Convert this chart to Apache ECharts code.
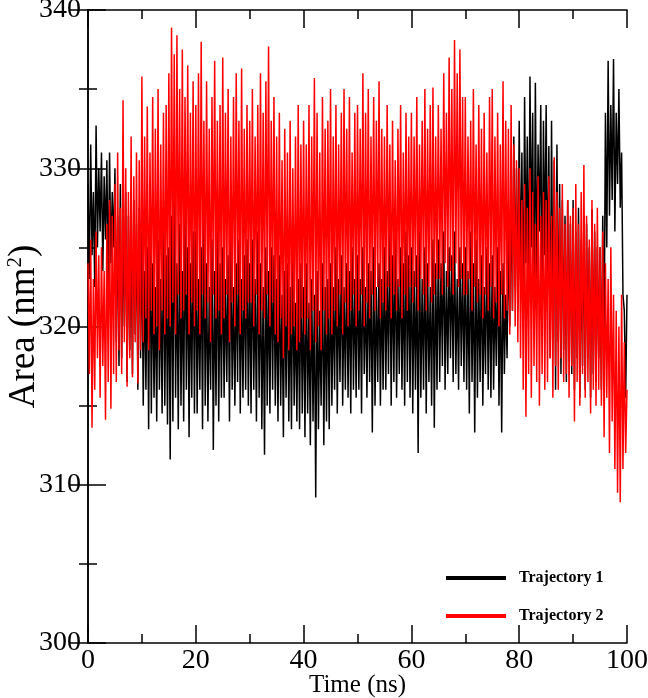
<!DOCTYPE html>
<html>
<head>
<meta charset="utf-8">
<script src="https://cdn.jsdelivr.net/npm/echarts@6/dist/echarts.min.js"></script>
<style>html,body{margin:0;padding:0;background:#fff;}#c{width:648px;height:698px;}</style>
</head>
<body>
<div id="c"></div>
<script>
// Sampling grid: one value every 0.25 ns from 0 to 100 ns
const timeStepNs = 0.25;
const xTicks = [0, 20, 40, 60, 80, 100];
const yTicks = [300, 310, 320, 330, 340];
const seriesNames = ['Trajectory 1', 'Trajectory 2'];

// Trajectory 1 (black), area in nm^2 (rows of 5 ns)
const traj1 = [
 329, 323, 331.5, 324.5, 328.5, 322.5, 332.7, 325, 330, 326, 331, 323.5, 329.5, 325.5, 330.5, 322.5, 331, 324, 328.5, 325,
 330, 319, 327, 317.5, 329, 318, 326, 320, 328.5, 316.5, 327, 318.5, 325.5, 317, 328, 319.5, 326.5, 316, 327.5, 318,
 326, 315, 323.5, 316, 325, 313.5, 327, 314.5, 324, 315.5, 322.5, 314, 325.5, 316, 323, 314.5, 326, 315, 324.5, 313.8,
 325, 311.6, 327, 314, 329, 315.5, 324, 313.5, 326.5, 315, 323.5, 314, 328, 316, 325, 313, 324, 315.5, 326, 314.5,
 326, 314.5, 323, 316, 325, 313.5, 327, 315, 324, 314, 322.5, 316, 325.5, 312.2, 323.5, 315, 326, 314, 324, 315.5,
 325, 315.5, 323, 316.5, 324.5, 314, 326, 316, 322.5, 315, 324, 316.5, 325.5, 314.5, 323, 315.5, 324.5, 316, 325.5, 315,
 324, 314.5, 325.5, 316, 323, 314, 326, 315.5, 324, 313.5, 322.5, 311.9, 325, 315, 323.5, 314.5, 325, 316, 324.5, 315,
 323, 314, 324.5, 315, 322, 313, 323.5, 315.5, 324, 314, 322.5, 313.5, 324.5, 315, 321.5, 314, 323, 313.5, 324, 314.5,
 322.5, 313, 324, 314.5, 321.5, 312.5, 323, 314, 322, 309.2, 323.5, 313.5, 321, 315, 324, 312.5, 322.5, 314, 323, 313.5,
 324, 315, 322.5, 316, 325, 314.5, 323, 316.5, 324.5, 315, 322.5, 316, 324, 315.5, 323.5, 314.5, 325, 316, 323, 315.5,
 324.5, 316, 323, 314.5, 325, 317, 322.5, 315.5, 324, 316.5, 323.5, 313.3, 325, 315, 322.5, 316.5, 324, 315, 323, 316,
 325, 316, 323.5, 317, 326, 315, 324.5, 316.5, 325.5, 315.5, 323, 317, 325, 316, 324, 315, 326, 316.5, 324.5, 315.5,
 325, 314.5, 323.5, 316, 324.5, 312, 326, 315.5, 323, 316, 325, 314.5, 324, 316.5, 322.5, 315, 325.5, 313.6, 324, 316,
 325.5, 316.5, 324, 317.5, 326, 316, 323.5, 317, 325, 318, 324.5, 316.5, 326, 317, 323, 316, 325, 317.5, 324, 316.5,
 325, 316, 323.5, 314.5, 326, 316.5, 324, 313.3, 325.5, 315.5, 323, 316.5, 324.5, 315, 322.5, 317, 325, 316, 324, 315.5,
 324.5, 316, 322.5, 317.5, 325, 315, 323.5, 313.3, 324, 317, 322, 318, 326, 320, 328.5, 321, 332, 322.5, 330, 321,
 333, 323, 331, 320, 334.5, 324, 332, 321.5, 335.8, 325, 333.5, 319.6, 335.4, 323, 331.5, 326, 334, 321, 333, 324.5,
 334, 322, 331.4, 318, 333, 320, 330.5, 316, 331.5, 319, 329, 317, 328, 318.5, 327, 316.5, 328, 318, 326.5, 317,
 328, 316, 326, 318, 327.5, 315.5, 325.5, 317.5, 327, 316, 326.5, 318, 325, 315.5, 327.4, 317, 326, 316.5, 325, 318,
 325, 316, 327, 318.5, 333.5, 325, 336.8, 327, 334, 328, 336.9, 326, 333.5, 329, 335, 327.5, 331, 322, 321, 315.5,
 322
];

// Trajectory 2 (red), area in nm^2 (rows of 5 ns)
const traj2 = [
 324, 317, 325.5, 313.6, 323, 316, 326, 318, 324.5, 315.5, 325, 317.5, 323.5, 314.1, 326.5, 316.5, 328, 314.8, 327, 317,
 329, 316.5, 331, 318.5, 327.5, 317, 334.3, 319, 330, 316.2, 328.5, 318, 332, 316.8, 329.5, 319, 331, 316.4, 330.5, 318.5,
 335.8, 319, 332, 320.5, 333.9, 318.5, 331, 321, 334.5, 319.5, 332.5, 320, 335, 318.5, 331.5, 321, 333.5, 319.5, 334, 320.5,
 336, 320, 338.9, 321.5, 337.2, 319.5, 338.4, 322, 335, 320.5, 337.5, 321, 334.5, 322, 336.5, 319.5, 333.5, 321.5, 335.5, 320,
 334, 321, 336, 319.5, 338, 322, 333, 320.5, 335.5, 321.5, 332.5, 319, 334.5, 322, 336.8, 320.5, 333, 321, 334, 319.5,
 337, 320.5, 333.5, 322, 335, 319, 332, 321.5, 334.5, 320, 336, 322, 333, 319.5, 336.3, 321, 332.5, 320.5, 334, 321.5,
 333, 321.5, 335, 320, 332, 322, 334, 319.5, 336, 321, 333.5, 320.5, 335.5, 322, 337.7, 320, 333, 321.5, 334.5, 319.5,
 332, 319, 333.5, 320.5, 330.5, 318, 332.5, 320, 331, 318.5, 333, 319.5, 330, 320, 332, 318.5, 334, 319, 331.5, 320.5,
 333, 319.5, 331.5, 320.5, 334, 318.5, 332, 321, 335.7, 319, 333.5, 320, 331, 318.5, 334.5, 321, 332.5, 319.5, 333, 320.5,
 335, 319.5, 332, 321, 334, 320, 331.5, 322, 333.5, 319.5, 335, 321.5, 332.5, 320, 334.5, 321, 331, 322, 333.5, 320,
 334, 321, 332.5, 322, 336, 320, 333.5, 321.5, 335, 320.5, 332, 322, 334.5, 321, 333, 322.5, 335.5, 320.5, 332.5, 321.5,
 332, 321, 334, 322.5, 331.5, 320.5, 333, 322, 330.5, 321, 332.5, 322.5, 334, 320.5, 331, 322, 333.5, 321, 332, 322.5,
 333.5, 321.5, 332, 322.5, 334.5, 321, 331.5, 323, 333, 322, 335, 321, 332.5, 322.5, 334, 321.5, 335.1, 322, 332, 323,
 334, 323, 332.5, 322, 336, 324, 333.5, 322.5, 337, 323.5, 335, 322, 338.1, 324, 336, 322.5, 337.5, 323, 334.5, 322,
 334.5, 322, 332, 323, 333, 321, 335, 322.5, 331.5, 321.5, 334, 322, 332.5, 320.5, 333.5, 322, 331, 321, 334.5, 322.5,
 335, 320.5, 332, 321.5, 333.5, 320, 331.5, 322, 335.5, 320.5, 333, 321, 332.5, 319.5, 334, 321, 331.5, 320, 330.5, 319,
 330, 318, 328, 316, 329, 314.3, 327.5, 317, 330, 315.5, 328.5, 317.5, 326.5, 316.5, 329.5, 315, 327, 317, 328.5, 316,
 328, 316.5, 329.5, 318, 327, 315.5, 330.7, 317.5, 328.5, 316, 327.5, 318, 329, 316.5, 326.5, 317, 328, 315.5, 327, 317.5,
 327.5, 314, 329, 316.5, 326.5, 315, 328.5, 317, 330.2, 315.5, 327, 316.5, 325.5, 314.5, 328, 316, 326.5, 315, 327.5, 316,
 325, 315, 326, 313, 324, 315.5, 323, 312, 325, 314, 322, 311, 321, 309.5, 320, 308.9, 322, 311, 319, 312,
 316
];

function pairs(vals) { return vals.map((v, i) => [i * timeStepNs, v]); }

const FONT = 'Liberation Serif';
const axisLine = { show: true, lineStyle: { color: '#000', width: 1.5 } };
const tick = { show: true, inside: true, length: 18, lineStyle: { color: '#000', width: 1.5 } };
const minor = { show: true, splitNumber: 2, length: 9, lineStyle: { color: '#000', width: 1.5 } };
const labelStyle = { color: '#000', fontFamily: FONT, fontSize: 28 };

const xBase = { type: 'value', min: xTicks[0], max: xTicks[xTicks.length - 1], interval: xTicks[1] - xTicks[0],
  axisLine, axisTick: tick, minorTick: minor, splitLine: { show: false } };
const yBase = { type: 'value', min: yTicks[0], max: yTicks[yTicks.length - 1], interval: yTicks[1] - yTicks[0],
  axisLine, axisTick: tick, minorTick: minor, splitLine: { show: false } };

const chart = echarts.init(document.getElementById('c'), null, { renderer: 'canvas' });
chart.setOption({
  animation: false,
  backgroundColor: '#fff',
  grid: { left: 88, right: 21, top: 10, bottom: 55, containLabel: false, outerBoundsMode: 'none' },
  legend: {
    data: seriesNames,
    orient: 'vertical',
    left: 446, top: 570, padding: 0,
    icon: 'rect', itemWidth: 60, itemHeight: 4, itemGap: 22,
    textStyle: { color: '#000', fontFamily: FONT, fontSize: 16, fontWeight: 'bold', padding: [0, 0, 0, 8] }
  },
  xAxis: [
    Object.assign({}, xBase, { position: 'bottom',
      axisLabel: Object.assign({ margin: 4 }, labelStyle),
      name: 'Time (ns)', nameLocation: 'middle', nameGap: 30, nameMoveOverlap: false,
      nameTextStyle: { color: '#000', fontFamily: FONT, fontSize: 25 } }),
    Object.assign({}, xBase, { position: 'top', axisLabel: { show: false } })
  ],
  yAxis: [
    Object.assign({}, yBase, { position: 'left',
      axisLabel: Object.assign({ margin: 7 }, labelStyle),
      name: 'Area (nm{sup|2})', nameLocation: 'middle', nameGap: 44, nameMoveOverlap: false,
      nameTextStyle: { color: '#000', fontFamily: FONT, fontSize: 37,
        rich: { sup: { fontFamily: FONT, fontSize: 21, color: '#000', verticalAlign: 'top', padding: [0, 0, 18, 0] } } } }),
    Object.assign({}, yBase, { position: 'right', axisLabel: { show: false } })
  ],
  series: [
    { name: seriesNames[0], type: 'line', data: pairs(traj1), showSymbol: false, symbol: 'none',
      lineStyle: { color: '#000', width: 1.5 }, itemStyle: { color: '#000' }, z: 2 },
    { name: seriesNames[1], type: 'line', data: pairs(traj2), showSymbol: false, symbol: 'none',
      lineStyle: { color: '#ff0000', width: 1.5 }, itemStyle: { color: '#ff0000' }, z: 3 }
  ]
});
</script>
</body>
</html>
